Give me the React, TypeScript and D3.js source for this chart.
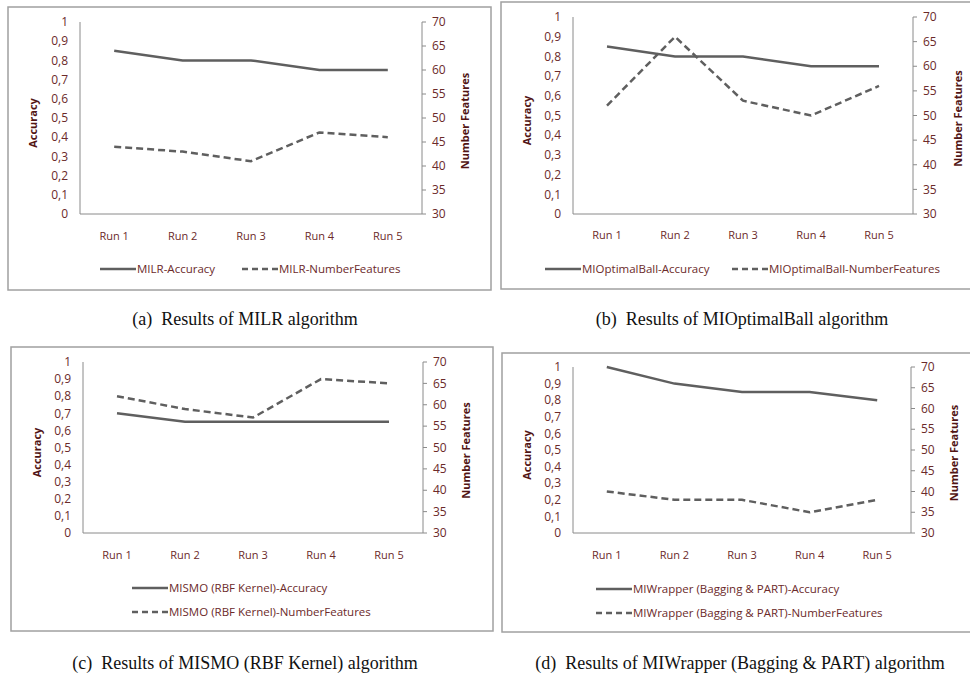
import React from "react";
import * as d3 from "d3";

const runs = ["Run 1", "Run 2", "Run 3", "Run 4", "Run 5"];
const accTicks = [0, 0.1, 0.2, 0.3, 0.4, 0.5, 0.6, 0.7, 0.8, 0.9, 1];
const nfTicks = [30, 35, 40, 45, 50, 55, 60, 65, 70];

const milrAcc = [0.85, 0.8, 0.8, 0.75, 0.75];
const milrNF = [44, 43, 41, 47, 46];
const mioAcc = [0.85, 0.8, 0.8, 0.75, 0.75];
const mioNF = [52, 66, 53, 50, 56];
const mismoAcc = [0.7, 0.65, 0.65, 0.65, 0.65];
const mismoNF = [62, 59, 57, 66, 65];
const miwAcc = [1.0, 0.9, 0.85, 0.85, 0.8];
const miwNF = [40, 38, 38, 35, 38];

const names = ["MILR", "MIOptimalBall", "MISMO (RBF Kernel)", "MIWrapper (Bagging & PART)"];
const captions = [
  "(a)  Results of MILR algorithm",
  "(b)  Results of MIOptimalBall algorithm",
  "(c)  Results of MISMO (RBF Kernel) algorithm",
  "(d)  Results of MIWrapper (Bagging & PART) algorithm",
];

const panels = [
  { acc: milrAcc, nf: milrNF, box: [8, 7, 483, 283], plot: [80, 22, 422, 214], xl: 236, ax: 33, nx: 465, legend: { rows: false, y: 269, x1: 100, x2: 242 }, cap: [245, 325] },
  { acc: mioAcc, nf: mioNF, box: [501, 2, 475, 287], plot: [573, 17, 913, 214], xl: 235, ax: 527, nx: 958, legend: { rows: false, y: 269, x1: 545, x2: 732 }, cap: [742, 325] },
  { acc: mismoAcc, nf: mismoNF, box: [11, 347, 482, 284], plot: [83, 362, 423, 533], xl: 555, ax: 37, nx: 466, legend: { rows: true, y: 588, x1: 132, x2: 132 }, cap: [245, 669] },
  { acc: miwAcc, nf: miwNF, box: [502, 353, 474, 279], plot: [573, 367, 911, 533], xl: 555, ax: 527, nx: 954, legend: { rows: true, y: 589, x1: 596, x2: 596 }, cap: [740, 669] },
];

const textColor = "#6b2a2a";
const titleColor = "#521515";
const lineColor = "#5f5f5f";
const axisColor = "#8a8a8a";
const font = "'Open Sans', sans-serif";

function Panel({ p, i }: { p: any; i: number }) {
  const [l, t, r, b] = p.plot;
  const x = d3.scaleBand<string>().domain(runs).range([l, r]);
  const xc = (d: string) => (x(d) as number) + x.bandwidth() / 2;
  const yA = d3.scaleLinear().domain([0, 1]).range([b, t]);
  const yN = d3.scaleLinear().domain([30, 70]).range([b, t]);
  const accLine = d3.line<number>().x((_, k) => xc(runs[k])).y((v) => yA(v))(p.acc) as string;
  const nfLine = d3.line<number>().x((_, k) => xc(runs[k])).y((v) => yN(v))(p.nf) as string;
  const name = names[i];
  const lg = p.legend;
  const legendItems = lg.rows
    ? [
        { x: lg.x1, y: lg.y, dash: undefined, label: `${name}-Accuracy` },
        { x: lg.x2, y: lg.y + 24, dash: "6,4", label: `${name}-NumberFeatures` },
      ]
    : [
        { x: lg.x1, y: lg.y, dash: undefined, label: `${name}-Accuracy` },
        { x: lg.x2, y: lg.y, dash: "6,4", label: `${name}-NumberFeatures` },
      ];
  return (
    <g>
      <rect x={p.box[0]} y={p.box[1]} width={p.box[2]} height={p.box[3]} fill="#fff" stroke="#a0a0a0" strokeWidth={1.5} />
      <line x1={l} x2={l} y1={t} y2={b} stroke={axisColor} strokeWidth={1} />
      <line x1={r} x2={r} y1={t} y2={b} stroke={axisColor} strokeWidth={1} />
      <line x1={l} x2={r} y1={b} y2={b} stroke={axisColor} strokeWidth={1} />
      {accTicks.map((v) => (
        <text key={"a" + v} x={l - 12} y={yA(v)} dy="0.35em" textAnchor="end" fill={textColor} fontSize={12} fontFamily={font}>
          {String(v).replace(".", ",")}
        </text>
      ))}
      {nfTicks.map((v) => (
        <g key={"n" + v}>
          <line x1={r} x2={r + 4} y1={yN(v)} y2={yN(v)} stroke={axisColor} />
          <text x={r + 10} y={yN(v)} dy="0.35em" textAnchor="start" fill={textColor} fontSize={12} fontFamily={font}>
            {v}
          </text>
        </g>
      ))}
      {runs.map((d) => (
        <text key={d} x={xc(d)} y={p.xl} dy="0.35em" textAnchor="middle" fill={textColor} fontSize={11} fontFamily={font}>
          {d}
        </text>
      ))}
      <text transform={`translate(${p.ax},${(t + b) / 2 + 5}) rotate(-90)`} textAnchor="middle" dy="0.35em" fill={titleColor} fontSize={11} fontWeight="bold" fontFamily={font}>
        Accuracy
      </text>
      <text transform={`translate(${p.nx},${(t + b) / 2 + 3}) rotate(-90)`} textAnchor="middle" dy="0.35em" fill={titleColor} fontSize={11} fontWeight="bold" fontFamily={font}>
        Number Features
      </text>
      <path d={accLine} fill="none" stroke={lineColor} strokeWidth={2.5} />
      <path d={nfLine} fill="none" stroke={lineColor} strokeWidth={2.5} strokeDasharray="7,4" />
      {legendItems.map((it) => (
        <g key={it.label}>
          <line x1={it.x} x2={it.x + 36} y1={it.y} y2={it.y} stroke={lineColor} strokeWidth={2.5} strokeDasharray={it.dash} />
          <text x={it.x + 37} y={it.y} dy="0.35em" fill={textColor} fontSize={11.5} fontFamily={font}>
            {it.label}
          </text>
        </g>
      ))}
      <text
        x={p.cap[0]}
        y={p.cap[1]}
        textAnchor="middle"
        fill="#111"
        fontSize={18}
        style={{ whiteSpace: "pre" }}
        fontFamily="'Liberation Serif', 'Times New Roman', serif"
      >
        {captions[i]}
      </text>
    </g>
  );
}

export default function App() {
  return (
    <svg width={970} height={674} style={{ position: "absolute", left: 0, top: 0, background: "#fff" }}>
      <rect x={0} y={0} width={970} height={674} fill="#fff" />
      {panels.map((p, i) => (
        <Panel key={i} p={p} i={i} />
      ))}
    </svg>
  );
}
